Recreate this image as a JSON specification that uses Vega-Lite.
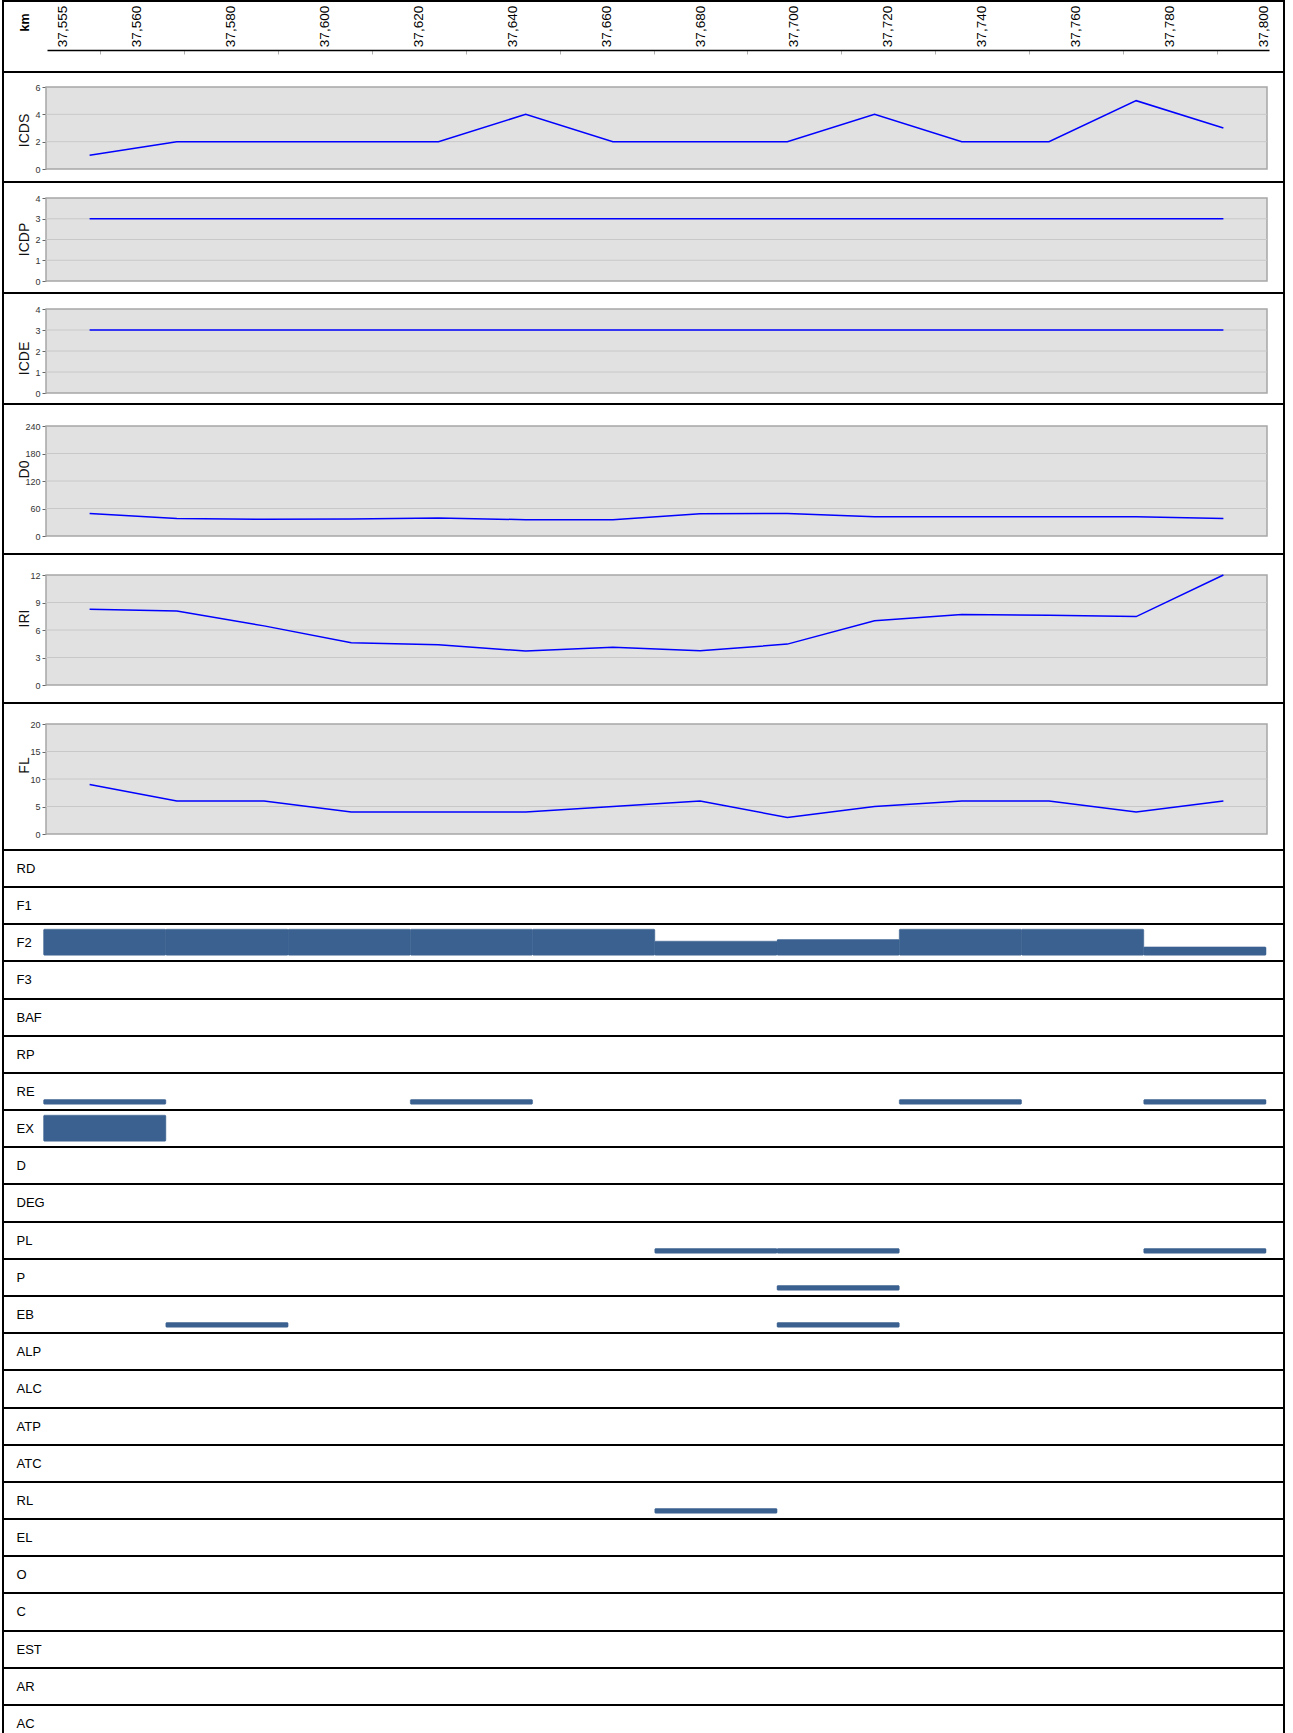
{
  "$schema": "https://vega.github.io/schema/vega-lite/v6.json",
  "padding": {"left": 2, "top": 0, "right": 0, "bottom": 0},
  "spacing": 0,
  "bounds": "flush",
  "config": {
    "view": {"stroke": "#000000", "strokeWidth": 2},
    "axis": {"labelFont": "Liberation Sans", "titleFont": "Liberation Sans", "titleFontWeight": "normal"},
    "concat": {"spacing": 0}
  },
  "datasets": {
    "km": [
      {"km": 37.555, "label": "37,555"}, {"km": 37.56, "label": "37,560"}, {"km": 37.58, "label": "37,580"}, {"km": 37.6, "label": "37,600"},
      {"km": 37.62, "label": "37,620"}, {"km": 37.64, "label": "37,640"}, {"km": 37.66, "label": "37,660"}, {"km": 37.68, "label": "37,680"},
      {"km": 37.7, "label": "37,700"}, {"km": 37.72, "label": "37,720"}, {"km": 37.74, "label": "37,740"}, {"km": 37.76, "label": "37,760"},
      {"km": 37.78, "label": "37,780"}, {"km": 37.8, "label": "37,800"}
    ],
    "lines": [
      {"i": 0, "ICDS": 1, "ICDP": 3, "ICDE": 3, "D0": 49, "IRI": 8.26, "FL": 9},
      {"i": 1, "ICDS": 2, "ICDP": 3, "ICDE": 3, "D0": 38, "IRI": 8.08, "FL": 6},
      {"i": 2, "ICDS": 2, "ICDP": 3, "ICDE": 3, "D0": 36.5, "IRI": 6.45, "FL": 6},
      {"i": 3, "ICDS": 2, "ICDP": 3, "ICDE": 3, "D0": 37, "IRI": 4.6, "FL": 4},
      {"i": 4, "ICDS": 2, "ICDP": 3, "ICDE": 3, "D0": 39.5, "IRI": 4.38, "FL": 4},
      {"i": 5, "ICDS": 4, "ICDP": 3, "ICDE": 3, "D0": 35.5, "IRI": 3.7, "FL": 4},
      {"i": 6, "ICDS": 2, "ICDP": 3, "ICDE": 3, "D0": 35.5, "IRI": 4.13, "FL": 5},
      {"i": 7, "ICDS": 2, "ICDP": 3, "ICDE": 3, "D0": 48.5, "IRI": 3.73, "FL": 6},
      {"i": 8, "ICDS": 2, "ICDP": 3, "ICDE": 3, "D0": 49, "IRI": 4.46, "FL": 3},
      {"i": 9, "ICDS": 4, "ICDP": 3, "ICDE": 3, "D0": 42, "IRI": 7.0, "FL": 5},
      {"i": 10, "ICDS": 2, "ICDP": 3, "ICDE": 3, "D0": 42, "IRI": 7.68, "FL": 6},
      {"i": 11, "ICDS": 2, "ICDP": 3, "ICDE": 3, "D0": 42, "IRI": 7.6, "FL": 6},
      {"i": 12, "ICDS": 5, "ICDP": 3, "ICDE": 3, "D0": 42, "IRI": 7.46, "FL": 4},
      {"i": 13, "ICDS": 3, "ICDP": 3, "ICDE": 3, "D0": 38, "IRI": 12.0, "FL": 6}
    ],
    "defects": [
      {"cat": "F2", "s": 0, "e": 1, "v": 100}, {"cat": "F2", "s": 1, "e": 2, "v": 100}, {"cat": "F2", "s": 2, "e": 3, "v": 100},
      {"cat": "F2", "s": 3, "e": 4, "v": 100}, {"cat": "F2", "s": 4, "e": 5, "v": 100}, {"cat": "F2", "s": 5, "e": 6, "v": 54},
      {"cat": "F2", "s": 6, "e": 7, "v": 60}, {"cat": "F2", "s": 7, "e": 8, "v": 100}, {"cat": "F2", "s": 8, "e": 9, "v": 100},
      {"cat": "F2", "s": 9, "e": 10, "v": 32},
      {"cat": "RE", "s": 0, "e": 1, "v": 18}, {"cat": "RE", "s": 3, "e": 4, "v": 18}, {"cat": "RE", "s": 7, "e": 8, "v": 18}, {"cat": "RE", "s": 9, "e": 10, "v": 18},
      {"cat": "EX", "s": 0, "e": 1, "v": 100},
      {"cat": "PL", "s": 5, "e": 6, "v": 18}, {"cat": "PL", "s": 6, "e": 7, "v": 18}, {"cat": "PL", "s": 9, "e": 10, "v": 18},
      {"cat": "P", "s": 6, "e": 7, "v": 18},
      {"cat": "EB", "s": 1, "e": 2, "v": 18}, {"cat": "EB", "s": 6, "e": 7, "v": 18},
      {"cat": "RL", "s": 5, "e": 6, "v": 18}
    ]
  },
  "vconcat": [
    {
      "width": 1281, "height": 71,
      "data": {"name": "km"},
      "mark": {"type": "text", "angle": 270, "fontSize": 13.5, "font": "Liberation Sans", "dx": 10, "align": "center", "baseline": "middle", "color": "#000000"},
      "encoding": {
        "x": {"field": "km", "type": "quantitative", "scale": {"domain": [37.553, 37.555, 37.56, 37.8, 37.8013], "range": [44, 60, 134, 1261, 1266]},
          "axis": {"orient": "bottom", "offset": -22, "values": [37.5575, 37.57, 37.59, 37.61, 37.63, 37.65, 37.67, 37.69, 37.71, 37.73, 37.75, 37.77, 37.79], "labels": false, "grid": false,
            "tickSize": 4, "tickColor": "#b0b0b0", "domainColor": "#000000", "domainWidth": 1.5,
            "title": "km", "titleFontWeight": "bold", "titleFontSize": 12.5, "titleColor": "#000000", "titleAngle": 270,
            "titleX": 21, "titleY": -28, "titleAlign": "center", "titleBaseline": "middle"}},
        "text": {"field": "label"}
      }
    },
    {
      "width": 1281, "height": 110,
      "layer": [
        {"data": {"values": [{}]}, "mark": {"type": "rect", "fill": "#e1e1e1", "stroke": "#a6a6a6", "strokeWidth": 1.5},
          "encoding": {
            "x": {"datum": -0.5, "type": "quantitative", "scale": {"domain": [-0.5, 13.5], "range": [43, 1264]}, "axis": null},
            "x2": {"datum": 13.5},
            "y": {"datum": 0, "type": "quantitative", "scale": {"domain": [0, 6], "range": [97, 15]},
              "axis": {"values": [0,2,4,6], "title": "ICDS", "offset": -43, "domain": false, "grid": false, "tickSize": 4, "tickColor": "#666666", "labelFontSize": 9, "labelColor": "#333333", "labelPadding": 2, "titleFontSize": 14, "titleColor": "#111111", "titleAngle": 270, "titleX": -22, "titleY": 58, "titleAlign": "center", "titleBaseline": "middle"}},
            "y2": {"datum": 6}
          }},
        {"data": {"values": [{"t": 2}, {"t": 4}]}, "mark": {"type": "rule", "color": "#c8c8c8", "strokeWidth": 1},
          "encoding": {
            "x": {"datum": -0.5, "type": "quantitative", "scale": {"domain": [-0.5, 13.5], "range": [43, 1264]}, "axis": null},
            "x2": {"datum": 13.5},
            "y": {"field": "t", "type": "quantitative", "scale": {"domain": [0, 6], "range": [97, 15]},
              "axis": {"values": [0,2,4,6], "title": "ICDS", "offset": -43, "domain": false, "grid": false, "tickSize": 4, "tickColor": "#666666", "labelFontSize": 9, "labelColor": "#333333", "labelPadding": 2, "titleFontSize": 14, "titleColor": "#111111", "titleAngle": 270, "titleX": -22, "titleY": 58, "titleAlign": "center", "titleBaseline": "middle"}}
          }},
        {"data": {"name": "lines"}, "mark": {"type": "line", "color": "#0000ff", "strokeWidth": 1.5},
          "encoding": {
            "x": {"field": "i", "type": "quantitative", "scale": {"domain": [-0.5, 13.5], "range": [43, 1264]}, "axis": null},
            "y": {"field": "ICDS", "type": "quantitative", "scale": {"domain": [0, 6], "range": [97, 15]},
              "axis": {"values": [0,2,4,6], "title": "ICDS", "offset": -43, "domain": false, "grid": false, "tickSize": 4, "tickColor": "#666666", "labelFontSize": 9, "labelColor": "#333333", "labelPadding": 2, "titleFontSize": 14, "titleColor": "#111111", "titleAngle": 270, "titleX": -22, "titleY": 58, "titleAlign": "center", "titleBaseline": "middle"}}
          }}
      ]
    },
    {
      "width": 1281, "height": 111,
      "layer": [
        {"data": {"values": [{}]}, "mark": {"type": "rect", "fill": "#e1e1e1", "stroke": "#a6a6a6", "strokeWidth": 1.5},
          "encoding": {
            "x": {"datum": -0.5, "type": "quantitative", "scale": {"domain": [-0.5, 13.5], "range": [43, 1264]}, "axis": null},
            "x2": {"datum": 13.5},
            "y": {"datum": 0, "type": "quantitative", "scale": {"domain": [0, 4], "range": [99, 16]},
              "axis": {"values": [0,1,2,3,4], "title": "ICDP", "offset": -43, "domain": false, "grid": false, "tickSize": 4, "tickColor": "#666666", "labelFontSize": 9, "labelColor": "#333333", "labelPadding": 2, "titleFontSize": 14, "titleColor": "#111111", "titleAngle": 270, "titleX": -22, "titleY": 57, "titleAlign": "center", "titleBaseline": "middle"}},
            "y2": {"datum": 4}
          }},
        {"data": {"values": [{"t": 1}, {"t": 2}, {"t": 3}]}, "mark": {"type": "rule", "color": "#c8c8c8", "strokeWidth": 1},
          "encoding": {
            "x": {"datum": -0.5, "type": "quantitative", "scale": {"domain": [-0.5, 13.5], "range": [43, 1264]}, "axis": null},
            "x2": {"datum": 13.5},
            "y": {"field": "t", "type": "quantitative", "scale": {"domain": [0, 4], "range": [99, 16]},
              "axis": {"values": [0,1,2,3,4], "title": "ICDP", "offset": -43, "domain": false, "grid": false, "tickSize": 4, "tickColor": "#666666", "labelFontSize": 9, "labelColor": "#333333", "labelPadding": 2, "titleFontSize": 14, "titleColor": "#111111", "titleAngle": 270, "titleX": -22, "titleY": 57, "titleAlign": "center", "titleBaseline": "middle"}}
          }},
        {"data": {"name": "lines"}, "mark": {"type": "line", "color": "#0000ff", "strokeWidth": 1.5},
          "encoding": {
            "x": {"field": "i", "type": "quantitative", "scale": {"domain": [-0.5, 13.5], "range": [43, 1264]}, "axis": null},
            "y": {"field": "ICDP", "type": "quantitative", "scale": {"domain": [0, 4], "range": [99, 16]},
              "axis": {"values": [0,1,2,3,4], "title": "ICDP", "offset": -43, "domain": false, "grid": false, "tickSize": 4, "tickColor": "#666666", "labelFontSize": 9, "labelColor": "#333333", "labelPadding": 2, "titleFontSize": 14, "titleColor": "#111111", "titleAngle": 270, "titleX": -22, "titleY": 57, "titleAlign": "center", "titleBaseline": "middle"}}
          }}
      ]
    },
    {
      "width": 1281, "height": 111,
      "layer": [
        {"data": {"values": [{}]}, "mark": {"type": "rect", "fill": "#e1e1e1", "stroke": "#a6a6a6", "strokeWidth": 1.5},
          "encoding": {
            "x": {"datum": -0.5, "type": "quantitative", "scale": {"domain": [-0.5, 13.5], "range": [43, 1264]}, "axis": null},
            "x2": {"datum": 13.5},
            "y": {"datum": 0, "type": "quantitative", "scale": {"domain": [0, 4], "range": [100, 16]},
              "axis": {"values": [0,1,2,3,4], "title": "ICDE", "offset": -43, "domain": false, "grid": false, "tickSize": 4, "tickColor": "#666666", "labelFontSize": 9, "labelColor": "#333333", "labelPadding": 2, "titleFontSize": 14, "titleColor": "#111111", "titleAngle": 270, "titleX": -22, "titleY": 65, "titleAlign": "center", "titleBaseline": "middle"}},
            "y2": {"datum": 4}
          }},
        {"data": {"values": [{"t": 1}, {"t": 2}, {"t": 3}]}, "mark": {"type": "rule", "color": "#c8c8c8", "strokeWidth": 1},
          "encoding": {
            "x": {"datum": -0.5, "type": "quantitative", "scale": {"domain": [-0.5, 13.5], "range": [43, 1264]}, "axis": null},
            "x2": {"datum": 13.5},
            "y": {"field": "t", "type": "quantitative", "scale": {"domain": [0, 4], "range": [100, 16]},
              "axis": {"values": [0,1,2,3,4], "title": "ICDE", "offset": -43, "domain": false, "grid": false, "tickSize": 4, "tickColor": "#666666", "labelFontSize": 9, "labelColor": "#333333", "labelPadding": 2, "titleFontSize": 14, "titleColor": "#111111", "titleAngle": 270, "titleX": -22, "titleY": 65, "titleAlign": "center", "titleBaseline": "middle"}}
          }},
        {"data": {"name": "lines"}, "mark": {"type": "line", "color": "#0000ff", "strokeWidth": 1.5},
          "encoding": {
            "x": {"field": "i", "type": "quantitative", "scale": {"domain": [-0.5, 13.5], "range": [43, 1264]}, "axis": null},
            "y": {"field": "ICDE", "type": "quantitative", "scale": {"domain": [0, 4], "range": [100, 16]},
              "axis": {"values": [0,1,2,3,4], "title": "ICDE", "offset": -43, "domain": false, "grid": false, "tickSize": 4, "tickColor": "#666666", "labelFontSize": 9, "labelColor": "#333333", "labelPadding": 2, "titleFontSize": 14, "titleColor": "#111111", "titleAngle": 270, "titleX": -22, "titleY": 65, "titleAlign": "center", "titleBaseline": "middle"}}
          }}
      ]
    },
    {
      "width": 1281, "height": 150,
      "layer": [
        {"data": {"values": [{}]}, "mark": {"type": "rect", "fill": "#e1e1e1", "stroke": "#a6a6a6", "strokeWidth": 1.5},
          "encoding": {
            "x": {"datum": -0.5, "type": "quantitative", "scale": {"domain": [-0.5, 13.5], "range": [43, 1264]}, "axis": null},
            "x2": {"datum": 13.5},
            "y": {"datum": 0, "type": "quantitative", "scale": {"domain": [0, 240], "range": [132, 22]},
              "axis": {"values": [0,60,120,180,240], "title": "D0", "offset": -43, "domain": false, "grid": false, "tickSize": 4, "tickColor": "#666666", "labelFontSize": 9, "labelColor": "#333333", "labelPadding": 2, "titleFontSize": 14, "titleColor": "#111111", "titleAngle": 270, "titleX": -22, "titleY": 65, "titleAlign": "center", "titleBaseline": "middle"}},
            "y2": {"datum": 240}
          }},
        {"data": {"values": [{"t": 60}, {"t": 120}, {"t": 180}]}, "mark": {"type": "rule", "color": "#c8c8c8", "strokeWidth": 1},
          "encoding": {
            "x": {"datum": -0.5, "type": "quantitative", "scale": {"domain": [-0.5, 13.5], "range": [43, 1264]}, "axis": null},
            "x2": {"datum": 13.5},
            "y": {"field": "t", "type": "quantitative", "scale": {"domain": [0, 240], "range": [132, 22]},
              "axis": {"values": [0,60,120,180,240], "title": "D0", "offset": -43, "domain": false, "grid": false, "tickSize": 4, "tickColor": "#666666", "labelFontSize": 9, "labelColor": "#333333", "labelPadding": 2, "titleFontSize": 14, "titleColor": "#111111", "titleAngle": 270, "titleX": -22, "titleY": 65, "titleAlign": "center", "titleBaseline": "middle"}}
          }},
        {"data": {"name": "lines"}, "mark": {"type": "line", "color": "#0000ff", "strokeWidth": 1.5},
          "encoding": {
            "x": {"field": "i", "type": "quantitative", "scale": {"domain": [-0.5, 13.5], "range": [43, 1264]}, "axis": null},
            "y": {"field": "D0", "type": "quantitative", "scale": {"domain": [0, 240], "range": [132, 22]},
              "axis": {"values": [0,60,120,180,240], "title": "D0", "offset": -43, "domain": false, "grid": false, "tickSize": 4, "tickColor": "#666666", "labelFontSize": 9, "labelColor": "#333333", "labelPadding": 2, "titleFontSize": 14, "titleColor": "#111111", "titleAngle": 270, "titleX": -22, "titleY": 65, "titleAlign": "center", "titleBaseline": "middle"}}
          }}
      ]
    },
    {
      "width": 1281, "height": 149,
      "layer": [
        {"data": {"values": [{}]}, "mark": {"type": "rect", "fill": "#e1e1e1", "stroke": "#a6a6a6", "strokeWidth": 1.5},
          "encoding": {
            "x": {"datum": -0.5, "type": "quantitative", "scale": {"domain": [-0.5, 13.5], "range": [43, 1264]}, "axis": null},
            "x2": {"datum": 13.5},
            "y": {"datum": 0, "type": "quantitative", "scale": {"domain": [0, 12], "range": [131, 21]},
              "axis": {"values": [0,3,6,9,12], "title": "IRI", "offset": -43, "domain": false, "grid": false, "tickSize": 4, "tickColor": "#666666", "labelFontSize": 9, "labelColor": "#333333", "labelPadding": 2, "titleFontSize": 14, "titleColor": "#111111", "titleAngle": 270, "titleX": -22, "titleY": 64, "titleAlign": "center", "titleBaseline": "middle"}},
            "y2": {"datum": 12}
          }},
        {"data": {"values": [{"t": 3}, {"t": 6}, {"t": 9}]}, "mark": {"type": "rule", "color": "#c8c8c8", "strokeWidth": 1},
          "encoding": {
            "x": {"datum": -0.5, "type": "quantitative", "scale": {"domain": [-0.5, 13.5], "range": [43, 1264]}, "axis": null},
            "x2": {"datum": 13.5},
            "y": {"field": "t", "type": "quantitative", "scale": {"domain": [0, 12], "range": [131, 21]},
              "axis": {"values": [0,3,6,9,12], "title": "IRI", "offset": -43, "domain": false, "grid": false, "tickSize": 4, "tickColor": "#666666", "labelFontSize": 9, "labelColor": "#333333", "labelPadding": 2, "titleFontSize": 14, "titleColor": "#111111", "titleAngle": 270, "titleX": -22, "titleY": 64, "titleAlign": "center", "titleBaseline": "middle"}}
          }},
        {"data": {"name": "lines"}, "mark": {"type": "line", "color": "#0000ff", "strokeWidth": 1.5},
          "encoding": {
            "x": {"field": "i", "type": "quantitative", "scale": {"domain": [-0.5, 13.5], "range": [43, 1264]}, "axis": null},
            "y": {"field": "IRI", "type": "quantitative", "scale": {"domain": [0, 12], "range": [131, 21]},
              "axis": {"values": [0,3,6,9,12], "title": "IRI", "offset": -43, "domain": false, "grid": false, "tickSize": 4, "tickColor": "#666666", "labelFontSize": 9, "labelColor": "#333333", "labelPadding": 2, "titleFontSize": 14, "titleColor": "#111111", "titleAngle": 270, "titleX": -22, "titleY": 64, "titleAlign": "center", "titleBaseline": "middle"}}
          }}
      ]
    },
    {
      "width": 1281, "height": 147,
      "layer": [
        {"data": {"values": [{}]}, "mark": {"type": "rect", "fill": "#e1e1e1", "stroke": "#a6a6a6", "strokeWidth": 1.5},
          "encoding": {
            "x": {"datum": -0.5, "type": "quantitative", "scale": {"domain": [-0.5, 13.5], "range": [43, 1264]}, "axis": null},
            "x2": {"datum": 13.5},
            "y": {"datum": 0, "type": "quantitative", "scale": {"domain": [0, 20], "range": [131, 21]},
              "axis": {"values": [0,5,10,15,20], "title": "FL", "offset": -43, "domain": false, "grid": false, "tickSize": 4, "tickColor": "#666666", "labelFontSize": 9, "labelColor": "#333333", "labelPadding": 2, "titleFontSize": 14, "titleColor": "#111111", "titleAngle": 270, "titleX": -22, "titleY": 62, "titleAlign": "center", "titleBaseline": "middle"}},
            "y2": {"datum": 20}
          }},
        {"data": {"values": [{"t": 5}, {"t": 10}, {"t": 15}]}, "mark": {"type": "rule", "color": "#c8c8c8", "strokeWidth": 1},
          "encoding": {
            "x": {"datum": -0.5, "type": "quantitative", "scale": {"domain": [-0.5, 13.5], "range": [43, 1264]}, "axis": null},
            "x2": {"datum": 13.5},
            "y": {"field": "t", "type": "quantitative", "scale": {"domain": [0, 20], "range": [131, 21]},
              "axis": {"values": [0,5,10,15,20], "title": "FL", "offset": -43, "domain": false, "grid": false, "tickSize": 4, "tickColor": "#666666", "labelFontSize": 9, "labelColor": "#333333", "labelPadding": 2, "titleFontSize": 14, "titleColor": "#111111", "titleAngle": 270, "titleX": -22, "titleY": 62, "titleAlign": "center", "titleBaseline": "middle"}}
          }},
        {"data": {"name": "lines"}, "mark": {"type": "line", "color": "#0000ff", "strokeWidth": 1.5},
          "encoding": {
            "x": {"field": "i", "type": "quantitative", "scale": {"domain": [-0.5, 13.5], "range": [43, 1264]}, "axis": null},
            "y": {"field": "FL", "type": "quantitative", "scale": {"domain": [0, 20], "range": [131, 21]},
              "axis": {"values": [0,5,10,15,20], "title": "FL", "offset": -43, "domain": false, "grid": false, "tickSize": 4, "tickColor": "#666666", "labelFontSize": 9, "labelColor": "#333333", "labelPadding": 2, "titleFontSize": 14, "titleColor": "#111111", "titleAngle": 270, "titleX": -22, "titleY": 62, "titleAlign": "center", "titleBaseline": "middle"}}
          }}
      ]
    },
    {"width": 1281, "height": 37, "data": {"name": "defects"}, "transform": [{"filter": "datum.cat === 'RD'"}], "mark": {"type": "bar", "color": "#3a6190", "stroke": "#3a6190", "strokeWidth": 0.5, "cornerRadius": 1},
      "encoding": {"x": {"field": "s", "type": "quantitative", "scale": {"domain": [0, 10], "range": [40.6, 1263]}, "axis": null}, "x2": {"field": "e"},
        "y": {"field": "v", "type": "quantitative", "scale": {"domain": [0, 100], "range": [31.2, 5.2]}, "axis": {"title": "RD", "labels": false, "ticks": false, "domain": false, "grid": false, "titleAngle": 0, "titleX": 13, "titleY": 18.6, "titleAlign": "left", "titleBaseline": "middle", "titleFontSize": 13, "titleColor": "#000000"}}, "y2": {"datum": 0}}},
    {"width": 1281, "height": 37, "data": {"name": "defects"}, "transform": [{"filter": "datum.cat === 'F1'"}], "mark": {"type": "bar", "color": "#3a6190", "stroke": "#3a6190", "strokeWidth": 0.5, "cornerRadius": 1},
      "encoding": {"x": {"field": "s", "type": "quantitative", "scale": {"domain": [0, 10], "range": [40.6, 1263]}, "axis": null}, "x2": {"field": "e"},
        "y": {"field": "v", "type": "quantitative", "scale": {"domain": [0, 100], "range": [31.2, 5.2]}, "axis": {"title": "F1", "labels": false, "ticks": false, "domain": false, "grid": false, "titleAngle": 0, "titleX": 13, "titleY": 18.6, "titleAlign": "left", "titleBaseline": "middle", "titleFontSize": 13, "titleColor": "#000000"}}, "y2": {"datum": 0}}},
    {"width": 1281, "height": 37, "data": {"name": "defects"}, "transform": [{"filter": "datum.cat === 'F2'"}], "mark": {"type": "bar", "color": "#3a6190", "stroke": "#3a6190", "strokeWidth": 0.5, "cornerRadius": 1},
      "encoding": {"x": {"field": "s", "type": "quantitative", "scale": {"domain": [0, 10], "range": [40.6, 1263]}, "axis": null}, "x2": {"field": "e"},
        "y": {"field": "v", "type": "quantitative", "scale": {"domain": [0, 100], "range": [31.2, 5.2]}, "axis": {"title": "F2", "labels": false, "ticks": false, "domain": false, "grid": false, "titleAngle": 0, "titleX": 13, "titleY": 18.6, "titleAlign": "left", "titleBaseline": "middle", "titleFontSize": 13, "titleColor": "#000000"}}, "y2": {"datum": 0}}},
    {"width": 1281, "height": 38, "data": {"name": "defects"}, "transform": [{"filter": "datum.cat === 'F3'"}], "mark": {"type": "bar", "color": "#3a6190", "stroke": "#3a6190", "strokeWidth": 0.5, "cornerRadius": 1},
      "encoding": {"x": {"field": "s", "type": "quantitative", "scale": {"domain": [0, 10], "range": [40.6, 1263]}, "axis": null}, "x2": {"field": "e"},
        "y": {"field": "v", "type": "quantitative", "scale": {"domain": [0, 100], "range": [31.2, 5.2]}, "axis": {"title": "F3", "labels": false, "ticks": false, "domain": false, "grid": false, "titleAngle": 0, "titleX": 13, "titleY": 18.6, "titleAlign": "left", "titleBaseline": "middle", "titleFontSize": 13, "titleColor": "#000000"}}, "y2": {"datum": 0}}},
    {"width": 1281, "height": 37, "data": {"name": "defects"}, "transform": [{"filter": "datum.cat === 'BAF'"}], "mark": {"type": "bar", "color": "#3a6190", "stroke": "#3a6190", "strokeWidth": 0.5, "cornerRadius": 1},
      "encoding": {"x": {"field": "s", "type": "quantitative", "scale": {"domain": [0, 10], "range": [40.6, 1263]}, "axis": null}, "x2": {"field": "e"},
        "y": {"field": "v", "type": "quantitative", "scale": {"domain": [0, 100], "range": [31.2, 5.2]}, "axis": {"title": "BAF", "labels": false, "ticks": false, "domain": false, "grid": false, "titleAngle": 0, "titleX": 13, "titleY": 18.6, "titleAlign": "left", "titleBaseline": "middle", "titleFontSize": 13, "titleColor": "#000000"}}, "y2": {"datum": 0}}},
    {"width": 1281, "height": 37, "data": {"name": "defects"}, "transform": [{"filter": "datum.cat === 'RP'"}], "mark": {"type": "bar", "color": "#3a6190", "stroke": "#3a6190", "strokeWidth": 0.5, "cornerRadius": 1},
      "encoding": {"x": {"field": "s", "type": "quantitative", "scale": {"domain": [0, 10], "range": [40.6, 1263]}, "axis": null}, "x2": {"field": "e"},
        "y": {"field": "v", "type": "quantitative", "scale": {"domain": [0, 100], "range": [31.2, 5.2]}, "axis": {"title": "RP", "labels": false, "ticks": false, "domain": false, "grid": false, "titleAngle": 0, "titleX": 13, "titleY": 18.6, "titleAlign": "left", "titleBaseline": "middle", "titleFontSize": 13, "titleColor": "#000000"}}, "y2": {"datum": 0}}},
    {"width": 1281, "height": 37, "data": {"name": "defects"}, "transform": [{"filter": "datum.cat === 'RE'"}], "mark": {"type": "bar", "color": "#3a6190", "stroke": "#3a6190", "strokeWidth": 0.5, "cornerRadius": 1},
      "encoding": {"x": {"field": "s", "type": "quantitative", "scale": {"domain": [0, 10], "range": [40.6, 1263]}, "axis": null}, "x2": {"field": "e"},
        "y": {"field": "v", "type": "quantitative", "scale": {"domain": [0, 100], "range": [31.2, 5.2]}, "axis": {"title": "RE", "labels": false, "ticks": false, "domain": false, "grid": false, "titleAngle": 0, "titleX": 13, "titleY": 18.6, "titleAlign": "left", "titleBaseline": "middle", "titleFontSize": 13, "titleColor": "#000000"}}, "y2": {"datum": 0}}},
    {"width": 1281, "height": 37, "data": {"name": "defects"}, "transform": [{"filter": "datum.cat === 'EX'"}], "mark": {"type": "bar", "color": "#3a6190", "stroke": "#3a6190", "strokeWidth": 0.5, "cornerRadius": 1},
      "encoding": {"x": {"field": "s", "type": "quantitative", "scale": {"domain": [0, 10], "range": [40.6, 1263]}, "axis": null}, "x2": {"field": "e"},
        "y": {"field": "v", "type": "quantitative", "scale": {"domain": [0, 100], "range": [31.2, 5.2]}, "axis": {"title": "EX", "labels": false, "ticks": false, "domain": false, "grid": false, "titleAngle": 0, "titleX": 13, "titleY": 18.6, "titleAlign": "left", "titleBaseline": "middle", "titleFontSize": 13, "titleColor": "#000000"}}, "y2": {"datum": 0}}},
    {"width": 1281, "height": 37, "data": {"name": "defects"}, "transform": [{"filter": "datum.cat === 'D'"}], "mark": {"type": "bar", "color": "#3a6190", "stroke": "#3a6190", "strokeWidth": 0.5, "cornerRadius": 1},
      "encoding": {"x": {"field": "s", "type": "quantitative", "scale": {"domain": [0, 10], "range": [40.6, 1263]}, "axis": null}, "x2": {"field": "e"},
        "y": {"field": "v", "type": "quantitative", "scale": {"domain": [0, 100], "range": [31.2, 5.2]}, "axis": {"title": "D", "labels": false, "ticks": false, "domain": false, "grid": false, "titleAngle": 0, "titleX": 13, "titleY": 18.6, "titleAlign": "left", "titleBaseline": "middle", "titleFontSize": 13, "titleColor": "#000000"}}, "y2": {"datum": 0}}},
    {"width": 1281, "height": 38, "data": {"name": "defects"}, "transform": [{"filter": "datum.cat === 'DEG'"}], "mark": {"type": "bar", "color": "#3a6190", "stroke": "#3a6190", "strokeWidth": 0.5, "cornerRadius": 1},
      "encoding": {"x": {"field": "s", "type": "quantitative", "scale": {"domain": [0, 10], "range": [40.6, 1263]}, "axis": null}, "x2": {"field": "e"},
        "y": {"field": "v", "type": "quantitative", "scale": {"domain": [0, 100], "range": [31.2, 5.2]}, "axis": {"title": "DEG", "labels": false, "ticks": false, "domain": false, "grid": false, "titleAngle": 0, "titleX": 13, "titleY": 18.6, "titleAlign": "left", "titleBaseline": "middle", "titleFontSize": 13, "titleColor": "#000000"}}, "y2": {"datum": 0}}},
    {"width": 1281, "height": 37, "data": {"name": "defects"}, "transform": [{"filter": "datum.cat === 'PL'"}], "mark": {"type": "bar", "color": "#3a6190", "stroke": "#3a6190", "strokeWidth": 0.5, "cornerRadius": 1},
      "encoding": {"x": {"field": "s", "type": "quantitative", "scale": {"domain": [0, 10], "range": [40.6, 1263]}, "axis": null}, "x2": {"field": "e"},
        "y": {"field": "v", "type": "quantitative", "scale": {"domain": [0, 100], "range": [31.2, 5.2]}, "axis": {"title": "PL", "labels": false, "ticks": false, "domain": false, "grid": false, "titleAngle": 0, "titleX": 13, "titleY": 18.6, "titleAlign": "left", "titleBaseline": "middle", "titleFontSize": 13, "titleColor": "#000000"}}, "y2": {"datum": 0}}},
    {"width": 1281, "height": 37, "data": {"name": "defects"}, "transform": [{"filter": "datum.cat === 'P'"}], "mark": {"type": "bar", "color": "#3a6190", "stroke": "#3a6190", "strokeWidth": 0.5, "cornerRadius": 1},
      "encoding": {"x": {"field": "s", "type": "quantitative", "scale": {"domain": [0, 10], "range": [40.6, 1263]}, "axis": null}, "x2": {"field": "e"},
        "y": {"field": "v", "type": "quantitative", "scale": {"domain": [0, 100], "range": [31.2, 5.2]}, "axis": {"title": "P", "labels": false, "ticks": false, "domain": false, "grid": false, "titleAngle": 0, "titleX": 13, "titleY": 18.6, "titleAlign": "left", "titleBaseline": "middle", "titleFontSize": 13, "titleColor": "#000000"}}, "y2": {"datum": 0}}},
    {"width": 1281, "height": 37, "data": {"name": "defects"}, "transform": [{"filter": "datum.cat === 'EB'"}], "mark": {"type": "bar", "color": "#3a6190", "stroke": "#3a6190", "strokeWidth": 0.5, "cornerRadius": 1},
      "encoding": {"x": {"field": "s", "type": "quantitative", "scale": {"domain": [0, 10], "range": [40.6, 1263]}, "axis": null}, "x2": {"field": "e"},
        "y": {"field": "v", "type": "quantitative", "scale": {"domain": [0, 100], "range": [31.2, 5.2]}, "axis": {"title": "EB", "labels": false, "ticks": false, "domain": false, "grid": false, "titleAngle": 0, "titleX": 13, "titleY": 18.6, "titleAlign": "left", "titleBaseline": "middle", "titleFontSize": 13, "titleColor": "#000000"}}, "y2": {"datum": 0}}},
    {"width": 1281, "height": 37, "data": {"name": "defects"}, "transform": [{"filter": "datum.cat === 'ALP'"}], "mark": {"type": "bar", "color": "#3a6190", "stroke": "#3a6190", "strokeWidth": 0.5, "cornerRadius": 1},
      "encoding": {"x": {"field": "s", "type": "quantitative", "scale": {"domain": [0, 10], "range": [40.6, 1263]}, "axis": null}, "x2": {"field": "e"},
        "y": {"field": "v", "type": "quantitative", "scale": {"domain": [0, 100], "range": [31.2, 5.2]}, "axis": {"title": "ALP", "labels": false, "ticks": false, "domain": false, "grid": false, "titleAngle": 0, "titleX": 13, "titleY": 18.6, "titleAlign": "left", "titleBaseline": "middle", "titleFontSize": 13, "titleColor": "#000000"}}, "y2": {"datum": 0}}},
    {"width": 1281, "height": 38, "data": {"name": "defects"}, "transform": [{"filter": "datum.cat === 'ALC'"}], "mark": {"type": "bar", "color": "#3a6190", "stroke": "#3a6190", "strokeWidth": 0.5, "cornerRadius": 1},
      "encoding": {"x": {"field": "s", "type": "quantitative", "scale": {"domain": [0, 10], "range": [40.6, 1263]}, "axis": null}, "x2": {"field": "e"},
        "y": {"field": "v", "type": "quantitative", "scale": {"domain": [0, 100], "range": [31.2, 5.2]}, "axis": {"title": "ALC", "labels": false, "ticks": false, "domain": false, "grid": false, "titleAngle": 0, "titleX": 13, "titleY": 18.6, "titleAlign": "left", "titleBaseline": "middle", "titleFontSize": 13, "titleColor": "#000000"}}, "y2": {"datum": 0}}},
    {"width": 1281, "height": 37, "data": {"name": "defects"}, "transform": [{"filter": "datum.cat === 'ATP'"}], "mark": {"type": "bar", "color": "#3a6190", "stroke": "#3a6190", "strokeWidth": 0.5, "cornerRadius": 1},
      "encoding": {"x": {"field": "s", "type": "quantitative", "scale": {"domain": [0, 10], "range": [40.6, 1263]}, "axis": null}, "x2": {"field": "e"},
        "y": {"field": "v", "type": "quantitative", "scale": {"domain": [0, 100], "range": [31.2, 5.2]}, "axis": {"title": "ATP", "labels": false, "ticks": false, "domain": false, "grid": false, "titleAngle": 0, "titleX": 13, "titleY": 18.6, "titleAlign": "left", "titleBaseline": "middle", "titleFontSize": 13, "titleColor": "#000000"}}, "y2": {"datum": 0}}},
    {"width": 1281, "height": 37, "data": {"name": "defects"}, "transform": [{"filter": "datum.cat === 'ATC'"}], "mark": {"type": "bar", "color": "#3a6190", "stroke": "#3a6190", "strokeWidth": 0.5, "cornerRadius": 1},
      "encoding": {"x": {"field": "s", "type": "quantitative", "scale": {"domain": [0, 10], "range": [40.6, 1263]}, "axis": null}, "x2": {"field": "e"},
        "y": {"field": "v", "type": "quantitative", "scale": {"domain": [0, 100], "range": [31.2, 5.2]}, "axis": {"title": "ATC", "labels": false, "ticks": false, "domain": false, "grid": false, "titleAngle": 0, "titleX": 13, "titleY": 18.6, "titleAlign": "left", "titleBaseline": "middle", "titleFontSize": 13, "titleColor": "#000000"}}, "y2": {"datum": 0}}},
    {"width": 1281, "height": 37, "data": {"name": "defects"}, "transform": [{"filter": "datum.cat === 'RL'"}], "mark": {"type": "bar", "color": "#3a6190", "stroke": "#3a6190", "strokeWidth": 0.5, "cornerRadius": 1},
      "encoding": {"x": {"field": "s", "type": "quantitative", "scale": {"domain": [0, 10], "range": [40.6, 1263]}, "axis": null}, "x2": {"field": "e"},
        "y": {"field": "v", "type": "quantitative", "scale": {"domain": [0, 100], "range": [31.2, 5.2]}, "axis": {"title": "RL", "labels": false, "ticks": false, "domain": false, "grid": false, "titleAngle": 0, "titleX": 13, "titleY": 18.6, "titleAlign": "left", "titleBaseline": "middle", "titleFontSize": 13, "titleColor": "#000000"}}, "y2": {"datum": 0}}},
    {"width": 1281, "height": 37, "data": {"name": "defects"}, "transform": [{"filter": "datum.cat === 'EL'"}], "mark": {"type": "bar", "color": "#3a6190", "stroke": "#3a6190", "strokeWidth": 0.5, "cornerRadius": 1},
      "encoding": {"x": {"field": "s", "type": "quantitative", "scale": {"domain": [0, 10], "range": [40.6, 1263]}, "axis": null}, "x2": {"field": "e"},
        "y": {"field": "v", "type": "quantitative", "scale": {"domain": [0, 100], "range": [31.2, 5.2]}, "axis": {"title": "EL", "labels": false, "ticks": false, "domain": false, "grid": false, "titleAngle": 0, "titleX": 13, "titleY": 18.6, "titleAlign": "left", "titleBaseline": "middle", "titleFontSize": 13, "titleColor": "#000000"}}, "y2": {"datum": 0}}},
    {"width": 1281, "height": 37, "data": {"name": "defects"}, "transform": [{"filter": "datum.cat === 'O'"}], "mark": {"type": "bar", "color": "#3a6190", "stroke": "#3a6190", "strokeWidth": 0.5, "cornerRadius": 1},
      "encoding": {"x": {"field": "s", "type": "quantitative", "scale": {"domain": [0, 10], "range": [40.6, 1263]}, "axis": null}, "x2": {"field": "e"},
        "y": {"field": "v", "type": "quantitative", "scale": {"domain": [0, 100], "range": [31.2, 5.2]}, "axis": {"title": "O", "labels": false, "ticks": false, "domain": false, "grid": false, "titleAngle": 0, "titleX": 13, "titleY": 18.6, "titleAlign": "left", "titleBaseline": "middle", "titleFontSize": 13, "titleColor": "#000000"}}, "y2": {"datum": 0}}},
    {"width": 1281, "height": 38, "data": {"name": "defects"}, "transform": [{"filter": "datum.cat === 'C'"}], "mark": {"type": "bar", "color": "#3a6190", "stroke": "#3a6190", "strokeWidth": 0.5, "cornerRadius": 1},
      "encoding": {"x": {"field": "s", "type": "quantitative", "scale": {"domain": [0, 10], "range": [40.6, 1263]}, "axis": null}, "x2": {"field": "e"},
        "y": {"field": "v", "type": "quantitative", "scale": {"domain": [0, 100], "range": [31.2, 5.2]}, "axis": {"title": "C", "labels": false, "ticks": false, "domain": false, "grid": false, "titleAngle": 0, "titleX": 13, "titleY": 18.6, "titleAlign": "left", "titleBaseline": "middle", "titleFontSize": 13, "titleColor": "#000000"}}, "y2": {"datum": 0}}},
    {"width": 1281, "height": 37, "data": {"name": "defects"}, "transform": [{"filter": "datum.cat === 'EST'"}], "mark": {"type": "bar", "color": "#3a6190", "stroke": "#3a6190", "strokeWidth": 0.5, "cornerRadius": 1},
      "encoding": {"x": {"field": "s", "type": "quantitative", "scale": {"domain": [0, 10], "range": [40.6, 1263]}, "axis": null}, "x2": {"field": "e"},
        "y": {"field": "v", "type": "quantitative", "scale": {"domain": [0, 100], "range": [31.2, 5.2]}, "axis": {"title": "EST", "labels": false, "ticks": false, "domain": false, "grid": false, "titleAngle": 0, "titleX": 13, "titleY": 18.6, "titleAlign": "left", "titleBaseline": "middle", "titleFontSize": 13, "titleColor": "#000000"}}, "y2": {"datum": 0}}},
    {"width": 1281, "height": 37, "data": {"name": "defects"}, "transform": [{"filter": "datum.cat === 'AR'"}], "mark": {"type": "bar", "color": "#3a6190", "stroke": "#3a6190", "strokeWidth": 0.5, "cornerRadius": 1},
      "encoding": {"x": {"field": "s", "type": "quantitative", "scale": {"domain": [0, 10], "range": [40.6, 1263]}, "axis": null}, "x2": {"field": "e"},
        "y": {"field": "v", "type": "quantitative", "scale": {"domain": [0, 100], "range": [31.2, 5.2]}, "axis": {"title": "AR", "labels": false, "ticks": false, "domain": false, "grid": false, "titleAngle": 0, "titleX": 13, "titleY": 18.6, "titleAlign": "left", "titleBaseline": "middle", "titleFontSize": 13, "titleColor": "#000000"}}, "y2": {"datum": 0}}},
    {"width": 1281, "height": 37, "data": {"name": "defects"}, "transform": [{"filter": "datum.cat === 'AC'"}], "mark": {"type": "bar", "color": "#3a6190", "stroke": "#3a6190", "strokeWidth": 0.5, "cornerRadius": 1},
      "encoding": {"x": {"field": "s", "type": "quantitative", "scale": {"domain": [0, 10], "range": [40.6, 1263]}, "axis": null}, "x2": {"field": "e"},
        "y": {"field": "v", "type": "quantitative", "scale": {"domain": [0, 100], "range": [31.2, 5.2]}, "axis": {"title": "AC", "labels": false, "ticks": false, "domain": false, "grid": false, "titleAngle": 0, "titleX": 13, "titleY": 18.6, "titleAlign": "left", "titleBaseline": "middle", "titleFontSize": 13, "titleColor": "#000000"}}, "y2": {"datum": 0}}}
  ]
}
